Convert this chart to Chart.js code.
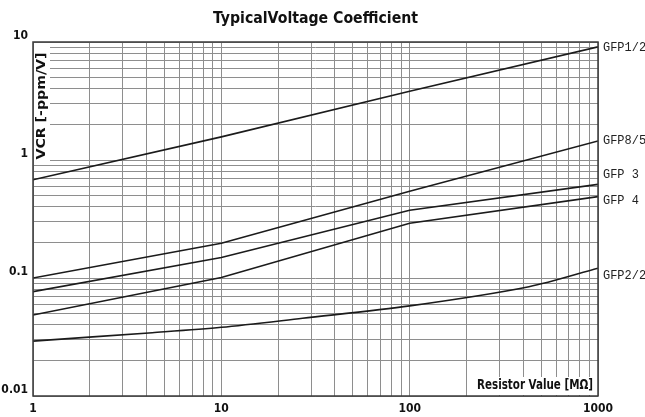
<!DOCTYPE html>
<html><head><meta charset="utf-8">
<script src="https://cdn.jsdelivr.net/npm/chart.js@4/dist/chart.umd.min.js"></script>
<style>html,body{margin:0;padding:0;background:#fff}</style>
</head><body>
<canvas id="c" width="645" height="417"></canvas>
<script>
// ---- data ----
const resistorValues = [1, 10, 100, 1000];           // MΩ
const gfp12 = [0.68, 1.57, 3.82, 9.1];
const gfp85 = [0.100, 0.197, 0.544, 1.45];
const gfp3  = [0.0766, 0.149, 0.375, 0.622];
const gfp4  = [0.0485, 0.101, 0.291, 0.489];
const gfp22Resistor = [1, 4.3, 10, 27, 100, 430, 1000];
const gfp22 = [0.0292, 0.0344, 0.0382, 0.0456, 0.058, 0.0843, 0.121];
const seriesNames = ['GFP1/2', 'GFP8/5', 'GFP 3', 'GFP 4', 'GFP2/2'];
const xTickLabels = ['1', '10', '100', '1000'];
const yTickLabels = ['0.01', '0.1', '1', '10'];
const titleText = 'TypicalVoltage Coefficient';
const xTitleText = 'Resistor Value [MΩ]';
const yTitleText = 'VCR [-ppm/V]';

// ---- styles ----
const NARROW = "'Liberation Sans Narrow','Arial Narrow','DejaVu Sans Condensed',sans-serif";
const MONO = "'Liberation Mono','DejaVu Sans Mono',monospace";
const labelDy = [1, 0, -10, 4, 7];

function toPoints(xs, ys) { return xs.map((x, i) => ({x: x, y: ys[i]})); }
function logGrid(minExp, maxExp) {
  const out = [];
  for (let e = minExp; e < maxExp; e++) {
    for (let m = 1; m <= 9; m++) out.push(Number((m * Math.pow(10, e)).toPrecision(6)));
  }
  out.push(Number(Math.pow(10, maxExp).toPrecision(6)));
  return out;
}
function labelFor(list, v) {
  const f = list.find(l => Math.abs(parseFloat(l) - v) < 1e-6 * v);
  return f === undefined ? '' : f;
}

const seriesData = [
  toPoints(resistorValues, gfp12),
  toPoints(resistorValues, gfp85),
  toPoints(resistorValues, gfp3),
  toPoints(resistorValues, gfp4),
  toPoints(gfp22Resistor, gfp22)
];

const datasets = seriesData.map((d, i) => ({
  label: seriesNames[i],
  data: d,
  borderColor: '#1b1b1b',
  borderWidth: 1.6,
  pointRadius: 0,
  fill: false,
  tension: i === 4 ? 0.3 : 0
}));

function fitText(ctx, text, x, y, width, font, align) {
  ctx.save();
  ctx.font = font;
  const w = ctx.measureText(text).width;
  ctx.translate(x, y);
  ctx.scale(width / w, 1);
  ctx.textAlign = align;
  ctx.textBaseline = 'middle';
  ctx.fillStyle = '#111';
  ctx.fillText(text, 0, 0);
  ctx.restore();
}

const decor = {
  id: 'decor',
  afterDraw(chart) {
    const ctx = chart.ctx;
    const a = chart.chartArea;
    const ys = chart.scales.y;
    // white boxes behind in-plot axis titles
    ctx.save();
    ctx.fillStyle = '#fff';
    ctx.fillRect(a.left + 1, a.top + 1, 16, 121);
    ctx.fillRect(a.right - 124, a.bottom - 19, 123, 18);
    ctx.restore();
    // plot frame
    ctx.save();
    ctx.strokeStyle = '#3a3a3a';
    ctx.lineWidth = 1.5;
    ctx.strokeRect(a.left, a.top, a.right - a.left, a.bottom - a.top);
    ctx.restore();
    // titles
    fitText(ctx, titleText, (a.left + a.right) / 2, 19, 205, 'bold 16px ' + NARROW, 'center');
    fitText(ctx, xTitleText, a.right - 121, a.bottom - 11, 116, 'bold 14px ' + NARROW, 'left');
    ctx.save();
    ctx.translate(a.left + 9, a.top + 64);
    ctx.rotate(-Math.PI / 2);
    fitText(ctx, yTitleText, 0, 0, 107, 'bold 13px ' + NARROW, 'center');
    ctx.restore();
    // series labels at right end
    ctx.save();
    ctx.font = '13px ' + MONO;
    ctx.fillStyle = '#222';
    ctx.textBaseline = 'middle';
    ctx.textAlign = 'left';
    seriesData.forEach((d, i) => {
      const last = d[d.length - 1];
      const y = ys.getPixelForValue(last.y) + labelDy[i];
      ctx.save();
      ctx.translate(a.right + 5, y);
      ctx.scale(0.92, 1);
      ctx.fillText(seriesNames[i], 0, 0);
      ctx.restore();
    });
    ctx.restore();
  }
};

new Chart(document.getElementById('c'), {
  type: 'line',
  data: { datasets: datasets },
  plugins: [decor],
  options: {
    responsive: false,
    animation: false,
    devicePixelRatio: 1,
    parsing: true,
    layout: { padding: { top: 42, right: 47, left: 0, bottom: 0 } },
    plugins: { legend: { display: false }, title: { display: false }, tooltip: { enabled: false } },
    scales: {
      x: {
        type: 'logarithmic',
        min: 1, max: 1000,
        afterBuildTicks(s) { s.ticks = logGrid(0, 3).map(v => ({value: v})); },
        afterFit(s) { s.height = 21; },
        grid: { color: '#8e8e8e', lineWidth: 1, drawTicks: false },
        border: { display: false },
        ticks: {
          autoSkip: false, maxRotation: 0, padding: 6,
          color: '#111',
          font: { family: NARROW, size: 12, weight: 'bold' },
          callback: v => labelFor(xTickLabels, v)
        }
      },
      y: {
        type: 'logarithmic',
        min: 0.01, max: 10,
        afterBuildTicks(s) { s.ticks = logGrid(-2, 1).map(v => ({value: v})); },
        afterFit(s) { s.width = 33; },
        grid: { color: '#8e8e8e', lineWidth: 1, drawTicks: false },
        border: { display: false },
        ticks: {
          autoSkip: false, padding: 5, labelOffset: -6,
          color: '#111',
          font: { family: NARROW, size: 12, weight: 'bold' },
          callback: v => labelFor(yTickLabels, v)
        }
      }
    }
  }
});
</script>
</body></html>
